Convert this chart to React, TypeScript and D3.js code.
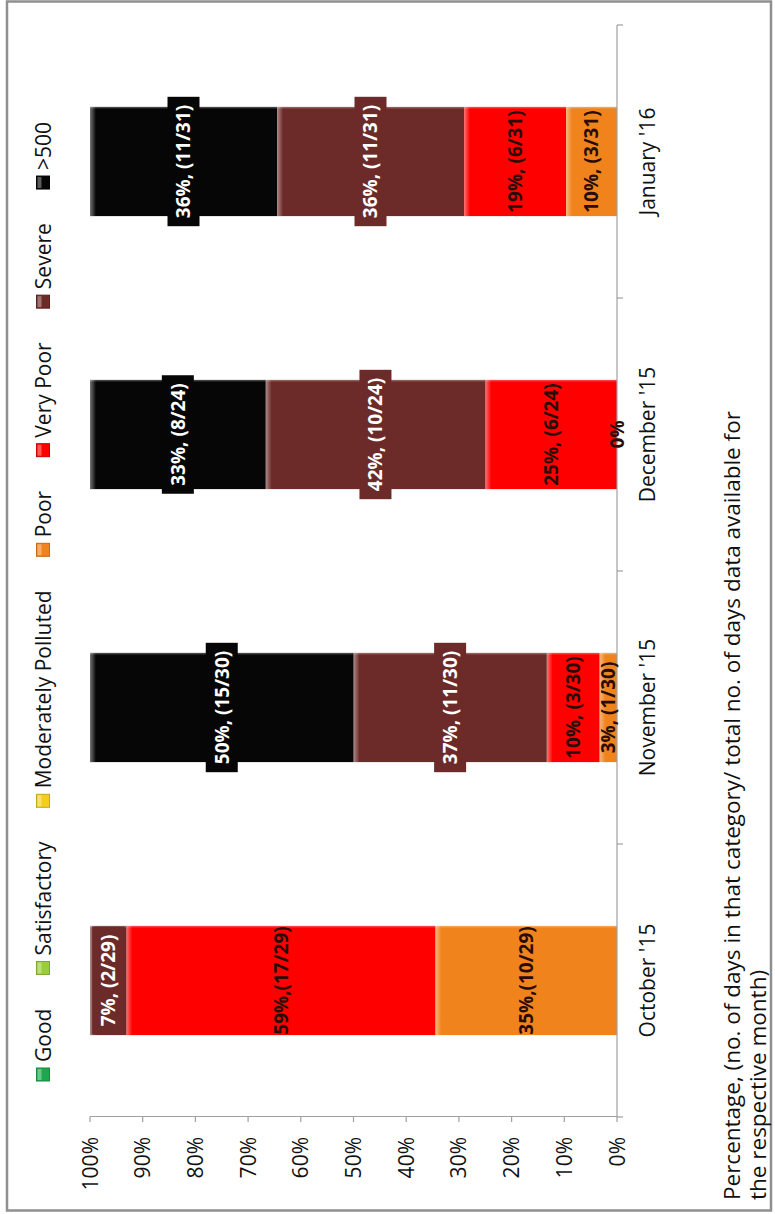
import React, { useEffect, useRef } from "react";
import * as d3 from "d3";

// ---- data ----
const months = ["October '15", "November '15", "December '15", "January '16"];
const seriesNames = ["Good", "Satisfactory", "Moderately Polluted", "Poor", "Very Poor", "Severe", ">500"];
const seriesColors = ["#1ea84e", "#9acd3c", "#f3cf1c", "#f0831c", "#fe0000", "#6c2b29", "#060606"];
const totalDays = [29, 30, 24, 31];
const goodDays = [0, 0, 0, 0];
const satisfactoryDays = [0, 0, 0, 0];
const moderatelyPollutedDays = [0, 0, 0, 0];
const poorDays = [10, 1, 0, 3];
const veryPoorDays = [17, 3, 6, 6];
const severeDays = [2, 11, 10, 11];
const above500Days = [0, 15, 8, 11];

const goodLabels = ["", "", "", ""];
const satisfactoryLabels = ["", "", "", ""];
const moderatelyPollutedLabels = ["", "", "", ""];
const poorLabels = ["35%,(10/29)", "3%, (1/30)", "0%", "10%, (3/31)"];
const veryPoorLabels = ["59%,(17/29)", "10%, (3/30)", "25%, (6/24)", "19%, (6/31)"];
const severeLabels = ["7%, (2/29)", "37%, (11/30)", "42%, (10/24)", "36%, (11/31)"];
const above500Labels = ["", "50%, (15/30)", "33%, (8/24)", "36%, (11/31)"];
const boxedSeries = ["Severe", ">500"];

const valueTicks = [0, 10, 20, 30, 40, 50, 60, 70, 80, 90, 100];
const axisTitleLines = [
  "Percentage, (no. of days in that category/ total no. of days data available for",
  "the respective month)",
];

const W = 775;
const H = 1214;
const FONT = "'Open Sans', 'DejaVu Sans', sans-serif";
const TEXT_COLOR = "#111111";

export default function App() {
  const ref = useRef<SVGSVGElement | null>(null);

  useEffect(() => {
    const svg = d3.select(ref.current);
    svg.selectAll("*").remove();

    const counts = [goodDays, satisfactoryDays, moderatelyPollutedDays, poorDays, veryPoorDays, severeDays, above500Days];
    const labels = [goodLabels, satisfactoryLabels, moderatelyPollutedLabels, poorLabels, veryPoorLabels, severeLabels, above500Labels];

    const table = months.map((m, i) => {
      const o: any = { month: m };
      seriesNames.forEach((s, j) => {
        o[s] = (counts[j][i] / totalDays[i]) * 100;
      });
      return o;
    });
    const layers = d3.stack<any>().keys(seriesNames)(table);

    const x = d3.scaleLinear().domain([0, 100]).range([617, 90]);
    const y = d3.scaleBand<string>().domain(months).range([1117, 25]).paddingInner(0.6).paddingOuter(0.3);
    const bw = y.bandwidth();
    const step = y.step();

    const defs = svg.append("defs");
    const bevel = defs.append("linearGradient").attr("id", "bevel").attr("x1", 0).attr("x2", 1).attr("y1", 0).attr("y2", 0);
    bevel.append("stop").attr("offset", 0).attr("stop-color", "#fff").attr("stop-opacity", 0.45);
    bevel.append("stop").attr("offset", 1).attr("stop-color", "#fff").attr("stop-opacity", 0);

    // background + frame
    svg.append("rect").attr("x", 0).attr("y", 0).attr("width", W).attr("height", H).attr("fill", "#fff");
    svg.append("rect")
      .attr("x", 7).attr("y", 1.5).attr("width", 764).attr("height", 1209)
      .attr("fill", "#fff").attr("stroke", "#8f8f8f").attr("stroke-width", 2.5);

    // bars
    const gBars = svg.append("g");
    layers.forEach((layer, j) => {
      layer.forEach((d: any) => {
        const x0 = x(d[1]);
        const w = x(d[0]) - x(d[1]);
        if (w <= 0.01) return;
        const yy = y(d.data.month) as number;
        gBars.append("rect").attr("x", x0).attr("y", yy).attr("width", w).attr("height", bw).attr("fill", seriesColors[j]);
        gBars.append("rect").attr("x", x0).attr("y", yy).attr("width", Math.min(6, w)).attr("height", bw).attr("fill", "url(#bevel)");
        gBars.append("rect").attr("x", x0).attr("y", yy).attr("width", w).attr("height", 1.5).attr("fill", "#fff").attr("opacity", 0.25);
      });
    });

    // category axis (vertical)
    const gAx = svg.append("g");
    gAx.append("line").attr("x1", 617).attr("x2", 617).attr("y1", 25).attr("y2", 1117).attr("stroke", "#a0a0a0").attr("stroke-width", 1.2);
    const centers = months.map((m) => (y(m) as number) + bw / 2);
    const bounds = centers.map((c) => c + step / 2).concat([centers[centers.length - 1] - step / 2]);
    bounds.forEach((b) => {
      gAx.append("line").attr("x1", 617).attr("x2", 623).attr("y1", b).attr("y2", b).attr("stroke", "#a0a0a0").attr("stroke-width", 1.2);
    });
    months.forEach((m, i) => {
      gAx.append("text")
        .attr("transform", `translate(648,${centers[i]}) rotate(-90)`)
        .attr("text-anchor", "middle").attr("dy", "0.35em")
        .attr("font-family", FONT).attr("font-size", 21).attr("fill", TEXT_COLOR)
        .text(m);
    });

    // value axis (horizontal)
    gAx.append("line").attr("x1", x(100)).attr("x2", x(0)).attr("y1", 1116.5).attr("y2", 1116.5).attr("stroke", "#a0a0a0").attr("stroke-width", 1.2);
    valueTicks.forEach((t) => {
      gAx.append("line").attr("x1", x(t)).attr("x2", x(t)).attr("y1", 1116.5).attr("y2", 1122).attr("stroke", "#a0a0a0").attr("stroke-width", 1.2);
      gAx.append("text")
        .attr("transform", `translate(${x(t)},1137) rotate(-90)`)
        .attr("text-anchor", "end").attr("dy", "0.36em")
        .attr("font-family", FONT).attr("font-size", 21).attr("fill", TEXT_COLOR)
        .text(`${t}%`);
    });

    // axis title
    const titleX = [740, 766];
    axisTitleLines.forEach((line, i) => {
      svg.append("text")
        .attr("transform", `translate(${titleX[i]},1200) rotate(-90)`)
        .attr("text-anchor", "start")
        .attr("font-family", FONT).attr("font-size", 22.5).attr("fill", TEXT_COLOR)
        .text(line);
    });

    // data labels
    const gLab = svg.append("g");
    layers.forEach((layer, j) => {
      const boxed = boxedSeries.includes(seriesNames[j]);
      layer.forEach((d: any, i: number) => {
        const txt = labels[j][i];
        if (!txt) return;
        const cx = (x(d[0]) + x(d[1])) / 2;
        const cy = (y(d.data.month) as number) + bw / 2;
        const g = gLab.append("g").attr("transform", `translate(${cx},${cy}) rotate(-90)`);
        const rect = boxed ? g.append("rect") : null;
        const t = g.append("text")
          .attr("text-anchor", "middle").attr("dy", "0.36em")
          .attr("font-family", FONT).attr("font-size", 19).attr("font-weight", 700)
          .attr("fill", boxed ? "#ffffff" : "#2a0c06")
          .text(txt);
        if (rect) {
          const L = (t.node() as SVGTextElement).getComputedTextLength();
          rect.attr("x", -L / 2 - 8).attr("y", -16).attr("width", L + 16).attr("height", 32).attr("fill", seriesColors[j]);
        }
      });
    });

    // legend
    const gLeg = svg.append("g");
    const lens: number[] = [];
    const legTexts = seriesNames.map((s) => {
      const t = gLeg.append("text")
        .attr("text-anchor", "start").attr("dy", "0.36em")
        .attr("font-family", FONT).attr("font-size", 21).attr("fill", TEXT_COLOR)
        .text(s);
      lens.push((t.node() as SVGTextElement).getComputedTextLength());
      return t;
    });
    const marker = 13;
    const gapIn = 6;
    const startY = 1081;
    const endY = 122;
    const used = d3.sum(lens) + seriesNames.length * (marker + gapIn);
    const gap = (startY - endY - used) / (seriesNames.length - 1);
    let cur = startY;
    seriesNames.forEach((s, j) => {
      gLeg.append("rect")
        .attr("x", 36.5).attr("y", cur - marker).attr("width", marker).attr("height", marker)
        .attr("fill", seriesColors[j]).attr("stroke", d3.color(seriesColors[j])!.darker(0.6).toString()).attr("stroke-width", 1);
      gLeg.append("rect")
        .attr("x", 37.5).attr("y", cur - marker + 1).attr("width", 4).attr("height", marker - 2)
        .attr("fill", "#fff").attr("opacity", 0.35);
      const ts = cur - marker - gapIn;
      legTexts[j].attr("transform", `translate(43,${ts}) rotate(-90)`);
      cur = ts - lens[j] - gap;
    });
  }, []);

  return (
    <svg
      ref={ref}
      width={W}
      height={H}
      viewBox={`0 0 ${W} ${H}`}
      style={{ position: "absolute", left: 0, top: 0, display: "block" }}
    />
  );
}
